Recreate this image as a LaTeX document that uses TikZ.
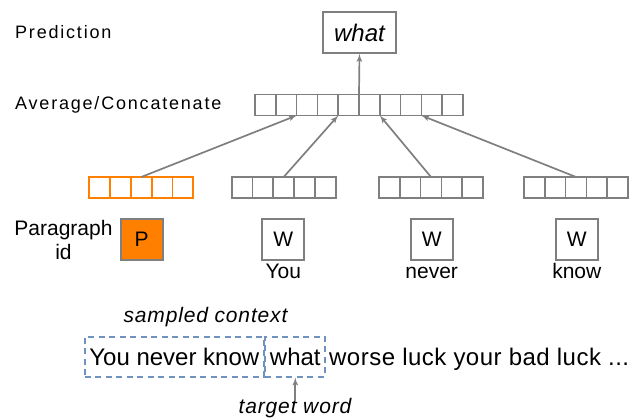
\documentclass[tikz,border=0pt]{standalone}
\usepackage{fontspec}
\setmainfont{Liberation Sans}
\usepackage{xcolor}
\usepackage{tikz}
\usetikzlibrary{arrows,positioning}
\definecolor{boxgray}{HTML}{7F7F7F}
\definecolor{vecorange}{HTML}{FF7F00}
\definecolor{dashblue}{HTML}{6F93BE}
\newcommand{\lbltxt}{\fontsize{18}{21}\selectfont\addfontfeature{LetterSpace=10}}
\newcommand{\wrdtxt}{\fontsize{21}{24}\selectfont}
\newcommand{\bigtxt}{\fontsize{24}{28}\selectfont}
\newcommand{\notetxt}{\fontsize{21}{24}\selectfont\itshape\addfontfeature{LetterSpace=4}}
\tikzstyle{cell} = [rectangle, draw=boxgray, line width=1.7pt, minimum width=20.8pt, minimum height=21pt, inner sep=0pt, outer sep=0pt]
\tikzstyle{ocell} = [cell, draw=vecorange]
\tikzstyle{wbox} = [rectangle, draw=boxgray, line width=1.7pt, minimum width=42pt, minimum height=41pt, inner sep=0pt, font=\wrdtxt]
\tikzstyle{wlbl} = [inner sep=0pt, text height=15pt, text depth=0pt, font=\wrdtxt]
\tikzstyle{line} = [draw=boxgray, -latex', line width=1.7pt]
\tikzstyle{dbox} = [rectangle, draw=dashblue, dash pattern=on 6pt off 4.5pt, line width=1.7pt, minimum height=40pt, font=\bigtxt, inner ysep=0pt]

\begin{document}
\begin{tikzpicture}[x=1pt, y=-1pt]
\useasboundingbox (0,0) rectangle (630,420);

% row labels
\node [anchor=west, inner sep=0pt, font=\lbltxt] (predlbl) at (15,32) {Prediction};
\node [anchor=west, inner sep=0pt, font=\lbltxt] (avglbl) at (15,105) {Average/Concatenate};
\node [align=center, inner sep=0pt, font=\wrdtxt] (parlbl) at (63.5,240) {Paragraph\\id};

% predicted word
\node [wbox, minimum width=73pt, font=\bigtxt\itshape] (pred) at (359.5,32.5) {what};

% averaged vector
\foreach \i in {1,...,10}
  \node [cell] (top-\i) at ({255+20.8*(\i-0.5)},105) {};

% word and paragraph vectors
\foreach \i in {1,...,5} {
  \node [ocell] (par-\i) at ({89.3+20.8*(\i-0.5)},187.5) {};
  \node [cell] (you-\i) at ({231.7+20.8*(\i-0.5)},187.5) {};
  \node [cell] (never-\i) at ({379+20.8*(\i-0.5)},187.5) {};
  \node [cell] (know-\i) at ({524+20.8*(\i-0.5)},187.5) {};
}

% input tokens
\node [wbox, fill=vecorange] (pbox) at (141.7,239.5) {P};
\node [wbox] (w1) at (283.3,239.5) {W};
\node [wbox] (w2) at (431.7,239.5) {W};
\node [wbox] (w3) at (576.8,239.5) {W};
\node [wlbl, below=2.5pt of w1] (you) {You};
\node [wlbl, below=2.5pt of w2] (never) {never};
\node [wlbl, below=2.5pt of w3] (know) {know};

\path [line] (par-3.north) -- (top-3.south west);
\path [line] (you-3.north) -- (top-5.south west);
\path [line] (never-3.north) -- (top-7.south west);
\path [line] (know-3.north) -- (top-9.south west);
\path [line] (top-6.north west) -- (pred.south);

% sentence with sliding window
\node [dbox, inner xsep=4.5pt, anchor=west] (ctx) at (84,356.7) {You never know};
\node [dbox, inner xsep=4.5pt, right=0pt of ctx] (tgt) {what};
\draw [draw=dashblue, line width=1.7pt] (ctx.north east) -- (ctx.south east);
\node [anchor=base west, inner sep=0pt, font=\bigtxt\addfontfeature{LetterSpace=2}] (rest) at ([xshift=3pt]tgt.base east) {worse luck your bad luck ...};

\node [font=\notetxt, inner sep=0pt] (ctxlbl) at (205.5,316.7) {sampled context};
\node [font=\notetxt, inner sep=0pt] (tgtlbl) at (295,408) {target word};
\path [line] ([yshift=-3pt]tgtlbl.north -| tgt.south) -- (tgt.south);

\end{tikzpicture}
\end{document}
